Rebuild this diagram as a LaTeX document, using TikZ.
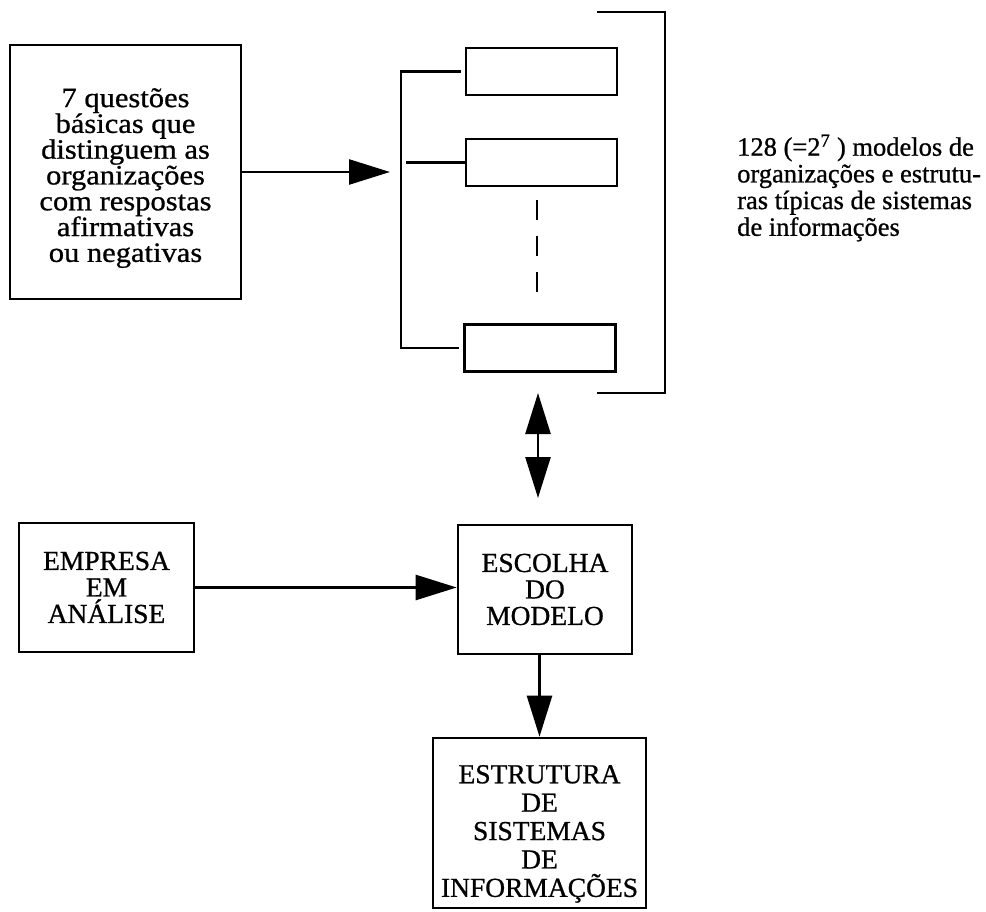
\documentclass[tikz,border=0pt]{standalone}
\usepackage{fontspec}
\setmainfont{Liberation Serif}[FakeBold=0.8]
\newfontfamily\widefont{Liberation Serif}[FakeStretch=1.09, FakeBold=0.8]
\lineskiplimit=-1000pt
\usetikzlibrary{arrows.meta}

\tikzset{
  x=1pt, y=-1pt,
  box/.style={draw, line width=2.6pt, rectangle, inner sep=0pt, align=center},
  slot/.style={draw, line width=2.6pt, rectangle, inner sep=0pt,
               minimum width=151pt, minimum height=47pt},
  arr/.style={line width=2.6pt, -{Triangle[length=41pt,width=25pt]}},
  darr/.style={line width=2.6pt,
               {Triangle[length=41pt,width=25pt]}-{Triangle[length=41pt,width=25pt]}},
  wire/.style={line width=2.4pt},
  qfont/.style={font=\widefont\fontsize{28}{25.8}\selectfont},
  capsfont/.style={font=\fontsize{27.5}{26.5}\selectfont},
  notefont/.style={font=\fontsize{26.5}{26.7}\selectfont},
}

\begin{document}
\begin{tikzpicture}
\useasboundingbox (0,0) rectangle (986,912);

% questions box and its arrow into the model list
\node[box, qfont, minimum width=231pt, minimum height=254pt] (quest) at (125.5,172)
  {\rule{0pt}{31pt}7 questões\\básicas que\\distinguem as\\organizações\\com respostas\\afirmativas\\ou negativas};
\coordinate (listin) at (390,172);
\draw[arr] (quest.east |- listin) -- (listin);

% list of model slots
\node[slot] (m1) at (541.5,71.5) {};
\node[slot] (m2) at (541.5,162.5) {};
\node[slot] (m3) at (540,348) {};
\coordinate (spine) at (401,200);
\draw[wire] ([xshift=-4pt]m1.west) -- (m1.west -| spine) -- (m3.west -| spine) -- ([xshift=-4pt]m3.west);
\draw[wire] (m2.west) -- ([xshift=-59pt]m2.west);

% ellipsis between slots
\coordinate (dots1) at (537,200);
\coordinate (dots2) at (537,292);
\draw[wire, dash pattern=on 20pt off 16pt] (dots1) -- (dots2);

% outer bracket
\coordinate (bk1) at (597,12);
\coordinate (bk2) at (665,12);
\coordinate (bk3) at (665,393);
\coordinate (bk4) at (597,393);
\draw[wire, line join=miter] (bk1) -- (bk2) -- (bk3) -- (bk4);

% note on the number of models
\node[notefont, anchor=west, align=left, inner sep=0pt] (note) at (737,188)
  {128 (=2\textsuperscript{7} ) modelos de\\organizações e estrutu-\\ras típicas de sistemas\\de informações};

% choice of model
\coordinate (up) at (538,393);
\coordinate (down) at (538,498);
\draw[darr] (up) -- (down);

\node[box, capsfont, minimum width=174pt, minimum height=129pt] (esc) at (545,589.5)
  {ESCOLHA\\DO\\MODELO};
\node[box, capsfont, minimum width=175pt, minimum height=129pt] (emp) at (106.5,587.5)
  {EMPRESA\\EM\\ANÁLISE};
\draw[arr] (emp.east) -- (emp.east -| esc.west);

\node[box, font=\fontsize{27.5}{28.4}\selectfont, minimum width=213pt, minimum height=170pt] (est) at (539.5,823)
  {\rule{0pt}{40pt}ESTRUTURA\\DE\\SISTEMAS\\DE\\INFORMAÇÕES};
\draw[arr] (est.north |- esc.south) -- (est.north);
\end{tikzpicture}
\end{document}
